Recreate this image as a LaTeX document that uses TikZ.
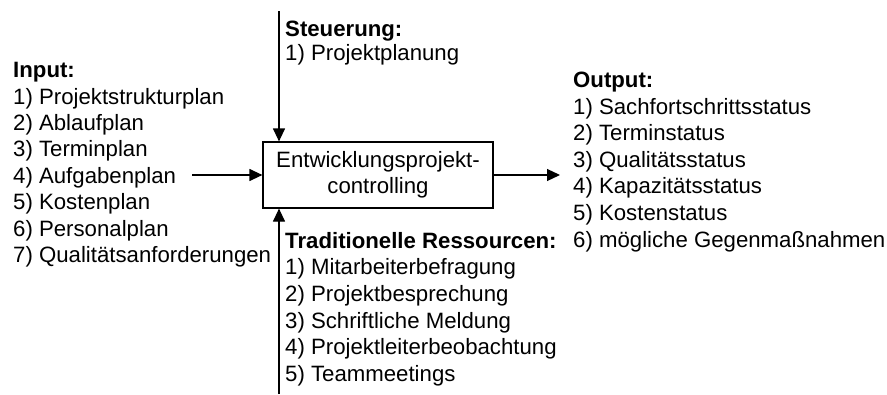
\documentclass[tikz,border=0pt]{standalone}
\usepackage{fontspec}
\setmainfont{Liberation Sans}
\usetikzlibrary{arrows.meta}
\begin{document}
\begin{tikzpicture}[x=1pt,y=-1pt,
  lbl/.style={anchor=base west, inner sep=0pt, font=\fontsize{22.2}{26}\selectfont},
  head/.style={lbl, font=\fontsize{22.2}{26}\selectfont\bfseries},
  flow/.style={line width=1.2pt, -{Triangle[length=13pt,width=12pt]}},
  proc/.style={draw, line width=1.2pt, minimum width=230pt, minimum height=66pt,
    inner sep=0pt, align=center, font=\fontsize{22.2}{25.5}\selectfont}]
\useasboundingbox (0,0) rectangle (887,394);

% central process
\node[proc] (ctrl) at (378,175) {Entwicklungsprojekt-\\controlling};

% free ends of the four connectors
\coordinate (ctlsrc) at (279,11);
\coordinate (ressrc) at (279,394);
\coordinate (insrc)  at (192,175);
\coordinate (outdst) at (560,175);

\draw[flow] (ctlsrc) -- (ctlsrc |- ctrl.north);
\draw[flow] (ressrc) -- (ressrc |- ctrl.south);
\draw[flow] (insrc) -- (ctrl.west);
\draw[flow] (ctrl.east) -- (outdst);

% Steuerung
\node[head] (ctlhead) at (285,36.5) {Steuerung:};
\node[lbl] (ctl-1) at (285,60.5) {1) Projektplanung};

% Input
\node[head] (inhead) at (13,77.6) {Input:};
\foreach \t [count=\i] in {Projektstrukturplan, Ablaufplan, Terminplan,
    Aufgabenplan, Kostenplan, Personalplan, Qualitätsanforderungen}
  \node[lbl] (in-\i) at (13,77.6+\i*26.4) {\i) \t};

% Output
\node[head] (outhead) at (573,87.5) {Output:};
\foreach \t [count=\i] in {Sachfortschrittsstatus, Terminstatus, Qualitätsstatus,
    Kapazitätsstatus, Kostenstatus, mögliche Gegenmaßnahmen}
  \node[lbl] (out-\i) at (573,87.5+\i*26.6) {\i) \t};

% Traditionelle Ressourcen
\node[head] (reshead) at (285,248) {Traditionelle Ressourcen:};
\foreach \t [count=\i] in {Mitarbeiterbefragung, Projektbesprechung,
    Schriftliche Meldung, Projektleiterbeobachtung, Teammeetings}
  \node[lbl] (res-\i) at (285,248+\i*26.7) {\i) \t};
\end{tikzpicture}
\end{document}
